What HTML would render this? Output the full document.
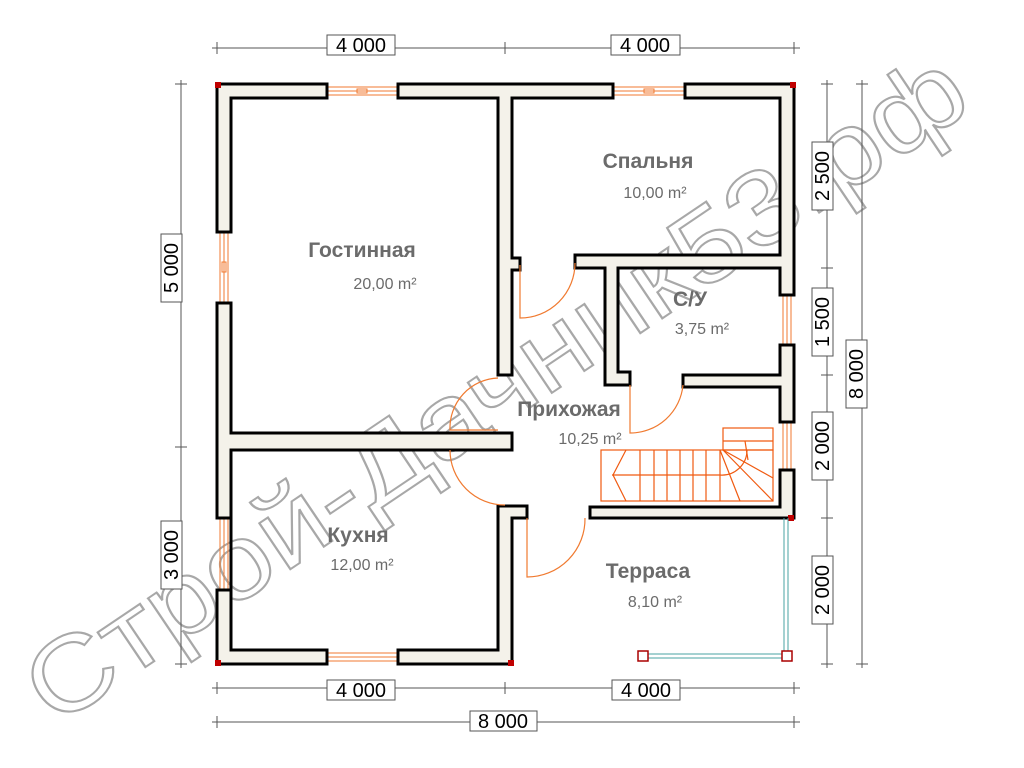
<!DOCTYPE html>
<html><head><meta charset="utf-8"><style>
html,body{margin:0;padding:0;background:#fff;width:1024px;height:768px;overflow:hidden}
</style></head><body>
<svg width="1024" height="768" viewBox="0 0 1024 768" xmlns="http://www.w3.org/2000/svg" font-family="Liberation Sans, sans-serif">
<!-- watermark -->
<text x="0" y="0" transform="translate(55,728) rotate(-34)" font-size="105" fill="#fff" stroke="#a8a8a8" stroke-width="2" textLength="1110" lengthAdjust="spacingAndGlyphs">Строй-Дачник53.рф</text>

<!-- windows -->
<g stroke="#f07a30" stroke-width="1" fill="none">
<rect x="327" y="87" width="71" height="8"/><line x1="327" y1="91" x2="398" y2="91"/><rect x="357" y="89" width="10" height="4"/>
<rect x="613" y="87" width="72" height="8"/><line x1="613" y1="91" x2="685" y2="91"/><rect x="644" y="89" width="10" height="4"/>
<rect x="327" y="653" width="71" height="8"/><line x1="327" y1="657" x2="398" y2="657"/>
<rect x="220" y="232" width="8" height="71"/><line x1="224" y1="232" x2="224" y2="303"/><rect x="222" y="262" width="4" height="10"/>
<rect x="220" y="518" width="8" height="72"/><line x1="224" y1="518" x2="224" y2="590"/>
<rect x="783" y="295" width="8" height="50"/><line x1="787" y1="295" x2="787" y2="345"/>
<rect x="783" y="422" width="8" height="48"/><line x1="787" y1="422" x2="787" y2="470"/>
</g>

<!-- walls -->
<g fill="#f4f2ea" stroke="#000" stroke-width="3" stroke-linejoin="miter">
<path d="M327,84 H217 V232 H231 V98 H327 Z"/>
<path d="M398,84 H613 V98 H512 V258 H520 V270 H512 V375 H498 V98 H398 Z"/>
<path d="M685,84 H794 V295 H780 V268 H618 V372 H630 V385 H605 V268 H575 V255 H780 V98 H685 Z"/>
<path d="M217,303 H231 V433 H512 V450 H231 V650 H327 V664 H217 V590 H231 V518 H217 Z"/>
<path d="M398,650 H498 V506 H527 V518 H512 V664 H398 Z"/>
<path d="M780,345 H794 V422 H780 V387 H683 V375 H780 Z"/>
<path d="M780,470 H794 V518 H590 V507 H780 Z"/>
</g>
<g fill="#c00000">
<rect x="215" y="82" width="6" height="6"/><rect x="790" y="82" width="6" height="6"/>
<rect x="215" y="660" width="6" height="6"/><rect x="508" y="660" width="6" height="6"/><rect x="788" y="515" width="6" height="6"/>
</g>

<!-- terrace railing -->
<g stroke="#4aa3a3" stroke-width="1" fill="none">
<line x1="784" y1="518" x2="784" y2="652"/><line x1="788" y1="518" x2="788" y2="652"/>
<line x1="648" y1="654" x2="782" y2="654"/><line x1="648" y1="658" x2="782" y2="658"/>
</g>
<rect x="638" y="651" width="10" height="10" fill="#fff" stroke="#a00" stroke-width="1.5"/>
<rect x="782" y="651" width="10" height="10" fill="#fff" stroke="#a00" stroke-width="1.5"/>

<!-- doors -->
<g stroke="#f07a30" stroke-width="1.2" fill="none">
<path d="M520,265 V318 A55,55 0 0 0 575,263"/>
<path d="M630,385 V433 A53,53 0 0 0 683,385"/>
<path d="M498,378 A50,50 0 0 0 450,430 H498"/>
<path d="M450,450 A55,55 0 0 0 505,505"/>
<path d="M527,518 V577 A58,58 0 0 0 585,518"/>
</g>

<!-- stairs -->
<g stroke="#f05a10" stroke-width="1.2" fill="none">
<rect x="601" y="450" width="172" height="51"/>
<rect x="723" y="428" width="50" height="22"/>
<line x1="723" y1="441" x2="773" y2="441"/>
<line x1="612" y1="475" x2="720" y2="475"/>
<path d="M626,450 L613,475 L626,501"/>
<line x1="640" y1="450" x2="640" y2="501"/><line x1="654" y1="450" x2="654" y2="501"/>
<line x1="667" y1="450" x2="667" y2="501"/><line x1="680" y1="450" x2="680" y2="501"/>
<line x1="693" y1="450" x2="693" y2="501"/><line x1="706" y1="450" x2="706" y2="501"/>
<line x1="720" y1="450" x2="720" y2="501"/>
<line x1="720" y1="450" x2="740" y2="501"/><line x1="723" y1="450" x2="773" y2="478"/>
<line x1="723" y1="450" x2="773" y2="501"/><line x1="745" y1="441" x2="748" y2="460"/>
<path d="M720,475 A25,25 0 0 0 747,450"/>
</g>

<!-- room labels -->
<g fill="#6b6b6b">
<text x="362" y="257" font-size="21" font-weight="bold" text-anchor="middle">Гостинная</text>
<text x="385" y="289" font-size="16" text-anchor="middle">20,00 m²</text>
<text x="648" y="168" font-size="21" font-weight="bold" text-anchor="middle">Спальня</text>
<text x="655" y="198" font-size="16" text-anchor="middle">10,00 m²</text>
<text x="690" y="306" font-size="21" font-weight="bold" text-anchor="middle">С/У</text>
<text x="702" y="334" font-size="16" text-anchor="middle">3,75 m²</text>
<text x="569" y="416" font-size="21" font-weight="bold" text-anchor="middle">Прихожая</text>
<text x="590" y="444" font-size="16" text-anchor="middle">10,25 m²</text>
<text x="358" y="542" font-size="21" font-weight="bold" text-anchor="middle">Кухня</text>
<text x="362" y="570" font-size="16" text-anchor="middle">12,00 m²</text>
<text x="648" y="578" font-size="21" font-weight="bold" text-anchor="middle">Терраса</text>
<text x="655" y="607" font-size="16" text-anchor="middle">8,10 m²</text>
</g>

<!-- dimensions -->
<g stroke="#555" stroke-width="1" fill="none">
<line x1="212" y1="48" x2="800" y2="48"/>
<line x1="217" y1="42" x2="217" y2="54"/><line x1="505" y1="42" x2="505" y2="54"/><line x1="794" y1="42" x2="794" y2="54"/>
<line x1="212" y1="688" x2="800" y2="688"/>
<line x1="217" y1="682" x2="217" y2="694"/><line x1="505" y1="682" x2="505" y2="694"/><line x1="794" y1="682" x2="794" y2="694"/>
<line x1="212" y1="722" x2="800" y2="722"/>
<line x1="217" y1="716" x2="217" y2="728"/><line x1="794" y1="716" x2="794" y2="728"/>
<line x1="181" y1="80" x2="181" y2="668"/>
<line x1="175" y1="84" x2="187" y2="84"/><line x1="175" y1="447" x2="187" y2="447"/><line x1="175" y1="664" x2="187" y2="664"/>
<line x1="827" y1="80" x2="827" y2="668"/>
<line x1="821" y1="84" x2="833" y2="84"/><line x1="821" y1="268" x2="833" y2="268"/><line x1="821" y1="375" x2="833" y2="375"/><line x1="821" y1="518" x2="833" y2="518"/><line x1="821" y1="664" x2="833" y2="664"/>
<line x1="862" y1="80" x2="862" y2="668"/>
<line x1="856" y1="84" x2="868" y2="84"/><line x1="856" y1="664" x2="868" y2="664"/>
</g>
<g font-size="20" fill="#000">
<rect x="327" y="35" width="68" height="20" fill="#fff" stroke="#555"/><text x="361" y="52" text-anchor="middle">4 000</text>
<rect x="611" y="35" width="69" height="20" fill="#fff" stroke="#555"/><text x="645" y="52" text-anchor="middle">4 000</text>
<rect x="327" y="680" width="68" height="20" fill="#fff" stroke="#555"/><text x="361" y="697" text-anchor="middle">4 000</text>
<rect x="612" y="680" width="68" height="20" fill="#fff" stroke="#555"/><text x="646" y="697" text-anchor="middle">4 000</text>
<rect x="470" y="711" width="67" height="20" fill="#fff" stroke="#555"/><text x="503" y="728" text-anchor="middle">8 000</text>
<g transform="translate(171,268) rotate(-90)"><rect x="-34" y="-10" width="68" height="21" fill="#fff" stroke="#555"/><text x="0" y="7" text-anchor="middle">5 000</text></g>
<g transform="translate(171,555) rotate(-90)"><rect x="-34" y="-10" width="68" height="21" fill="#fff" stroke="#555"/><text x="0" y="7" text-anchor="middle">3 000</text></g>
<g transform="translate(822,176) rotate(-90)"><rect x="-34" y="-10" width="68" height="21" fill="#fff" stroke="#555"/><text x="0" y="7" text-anchor="middle">2 500</text></g>
<g transform="translate(822,322) rotate(-90)"><rect x="-34" y="-10" width="68" height="21" fill="#fff" stroke="#555"/><text x="0" y="7" text-anchor="middle">1 500</text></g>
<g transform="translate(822,446) rotate(-90)"><rect x="-34" y="-10" width="68" height="21" fill="#fff" stroke="#555"/><text x="0" y="7" text-anchor="middle">2 000</text></g>
<g transform="translate(822,590) rotate(-90)"><rect x="-34" y="-10" width="68" height="21" fill="#fff" stroke="#555"/><text x="0" y="7" text-anchor="middle">2 000</text></g>
<g transform="translate(856,374) rotate(-90)"><rect x="-34" y="-10" width="68" height="21" fill="#fff" stroke="#555"/><text x="0" y="7" text-anchor="middle">8 000</text></g>
</g>
</svg>
</body></html>
